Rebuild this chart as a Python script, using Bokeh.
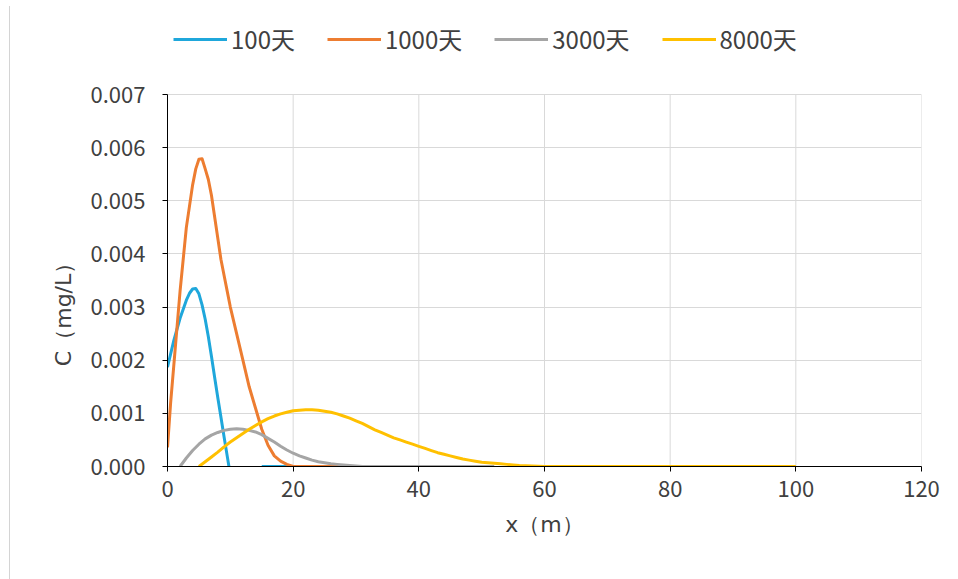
from bokeh.plotting import figure
from bokeh.models import Range1d, FixedTicker, Legend, LegendItem
from bokeh.embed import file_html
from bokeh.resources import INLINE

NAN = float("nan")

# ---- data ----
series_names = ["100天", "1000天", "3000天", "8000天"]
series_colors = ["#1FA7DB", "#ED7D31", "#A5A5A5", "#FFC000"]

x_100 = [0, 1, 2, 3, 3.5, 4, 4.5, 5, 5.5, 6, 6.5, 7, 7.5, 8, 8.5, 9, 9.5, 10,
         12.5, 15, 16, 17, 18, 19, 20]
c_100 = [0.00187, 0.00237, 0.00279, 0.00313, 0.00326, 0.00334, 0.00335, 0.00325,
         0.00304, 0.00277, 0.00244, 0.00207, 0.00168, 0.00130, 0.00093, 0.00056,
         0.00020, -0.00016, NAN, 0, 0, 0, 0, 0, 0]

x_1000 = [0, 0.5, 1, 1.5, 2, 2.5, 3, 3.5, 4, 4.5, 5, 5.5, 6, 6.5, 7, 7.5, 8, 8.5, 9,
          9.5, 10, 11, 12, 13, 14, 15, 16, 17, 18, 19, 20, 22, 24, 26, 28, 30, 31]
c_1000 = [0.00036, 0.0012, 0.0019, 0.0026, 0.0033, 0.0039, 0.0045, 0.0049, 0.0053,
          0.0056, 0.00578, 0.00579, 0.0056, 0.0054, 0.0051, 0.0047, 0.0043, 0.0039,
          0.0036, 0.0033, 0.0030, 0.0025, 0.0020, 0.0015, 0.0011, 0.0007, 0.0004,
          0.0002, 0.0001, 0.00004, 0, 0, 0, 0, 0, 0, 0]

x_3000 = [2, 3, 4, 5, 6, 7, 8, 9, 10, 11, 12, 13, 14, 15, 16, 17, 18, 19, 20, 21, 22,
          23, 24, 25, 26, 27, 28, 29, 30, 31, 35, 40, 45, 50, 52]
c_3000 = [0, 0.00016, 0.00030, 0.00042, 0.00052, 0.00059, 0.00064, 0.00068, 0.00070,
          0.00071, 0.00070, 0.00068, 0.00065, 0.00060, 0.00053, 0.00046, 0.00038,
          0.00031, 0.00025, 0.00020, 0.00016, 0.00012, 0.00009, 0.00007, 0.00005,
          0.00004, 0.00003, 0.00002, 0.00001, 0, 0, 0, 0, 0, 0]

x_8000 = [5, 6, 7, 8, 9, 10, 11, 12, 13, 14, 15, 16, 17, 18, 19, 20, 21, 22, 23, 24, 25,
          26, 27, 28, 29, 30, 31, 32, 33, 34, 35, 36, 37, 38, 39, 40, 41, 42, 43, 44,
          45, 46, 47, 48, 49, 50, 51, 52, 53, 54, 55, 56, 57, 58, 59, 60, 70, 80, 90, 100]
c_8000 = [0, 0.00009, 0.00018, 0.00027, 0.00037, 0.00046, 0.00054, 0.00062, 0.00070,
          0.00077, 0.00084, 0.00090, 0.00095, 0.00099, 0.00102, 0.00105, 0.00106,
          0.00107, 0.00107, 0.00106, 0.00104, 0.00102, 0.00099, 0.00095, 0.00091,
          0.00086, 0.00081, 0.00075, 0.00069, 0.00064, 0.00059, 0.00054, 0.00050,
          0.00046, 0.00042, 0.00038, 0.00034, 0.00030, 0.00026, 0.00023, 0.00020,
          0.00017, 0.00014, 0.00012, 0.00010, 0.00008, 0.00007, 0.00006, 0.00005,
          0.00004, 0.00003, 0.00002, 0.000015, 0.00001, 0.000005, 0, 0, 0, 0, 0]

x_ticks = [0, 20, 40, 60, 80, 100, 120]
y_ticks = [0.000, 0.001, 0.002, 0.003, 0.004, 0.005, 0.006, 0.007]
y_tick_labels = ["0.000", "0.001", "0.002", "0.003", "0.004", "0.005", "0.006", "0.007"]
x_label = "x（m）"
y_label = "C（mg/L）"

FONT = "Noto Sans CJK SC"
LABEL_FONT = "DejaVu Sans"

# plot area 372 px tall for 0..0.007; frame extended upward to hold the legend
FRAME_H = 448
AXIS_H = 372
y_top = y_ticks[-1] * FRAME_H / AXIS_H

p = figure(width=940, height=573, output_backend="svg", toolbar_location=None,
           x_range=Range1d(x_ticks[0], x_ticks[-1]), y_range=Range1d(y_ticks[0], y_top),
           min_border_left=157, min_border_right=29, min_border_top=12,
           min_border_bottom=113)
p.styles = {"margin-left": "9px", "margin-top": "6px",
            "border-left": "1px solid #d4d4d4"}
p.outline_line_color = None
p.background_fill_color = "white"
p.border_fill_color = "white"

# vertical grid lines limited to the value axis extent
p.xgrid.visible = False
p.segment(x0=x_ticks[1:], y0=[y_ticks[0]] * (len(x_ticks) - 1),
          x1=x_ticks[1:], y1=[y_ticks[-1]] * (len(x_ticks) - 1),
          line_color="#d9d9d9", line_width=1, level="underlay")

renderers = []
for xs, ys, col in zip([x_100, x_1000, x_3000, x_8000],
                       [c_100, c_1000, c_3000, c_8000], series_colors):
    r = p.line(xs, ys, line_color=col, line_width=3, line_join="round")
    renderers.append(r)

p.xaxis.ticker = FixedTicker(ticks=x_ticks)
p.yaxis.ticker = FixedTicker(ticks=y_ticks)
p.yaxis.bounds = (y_ticks[0], y_ticks[-1])
p.yaxis.major_label_overrides = {t: l for t, l in zip(y_ticks, y_tick_labels)}

for ax in (p.xaxis[0], p.yaxis[0]):
    ax.axis_line_color = "black"
    ax.axis_line_width = 1
    ax.major_tick_line_color = "black"
    ax.major_tick_in = 0
    ax.major_tick_out = 5
    ax.minor_tick_line_color = None
    ax.major_label_text_font = FONT
    ax.major_label_text_font_size = "22px"
    ax.major_label_text_color = "#404040"
    ax.axis_label_text_font = LABEL_FONT
    ax.axis_label_text_font_size = "22px"
    ax.axis_label_text_font_style = "normal"
    ax.axis_label_text_color = "#404040"

p.xaxis.axis_label = x_label
# trailing no-break spaces move the visible label down to the value-axis middle
p.yaxis.axis_label = y_label + "\u00a0" * 19
p.xaxis.major_label_standoff = 9
p.yaxis.major_label_standoff = 17
p.xaxis.axis_label_standoff = 12
p.yaxis.axis_label_standoff = 12

p.ygrid.grid_line_color = "#d9d9d9"
p.ygrid.ticker = FixedTicker(ticks=y_ticks)

items = [LegendItem(label=n, renderers=[r]) for n, r in zip(series_names, renderers)]
legend = Legend(items=items, orientation="horizontal", location=(6, 410),
                glyph_width=54, glyph_height=24, label_standoff=4, spacing=32,
                padding=0, margin=0, border_line_color=None,
                background_fill_alpha=0, label_text_font=FONT,
                label_text_font_size="24px", label_text_color="#404040",
                label_height=24)
p.add_layout(legend, "center")

open("out.html", "w").write(file_html(p, INLINE))
